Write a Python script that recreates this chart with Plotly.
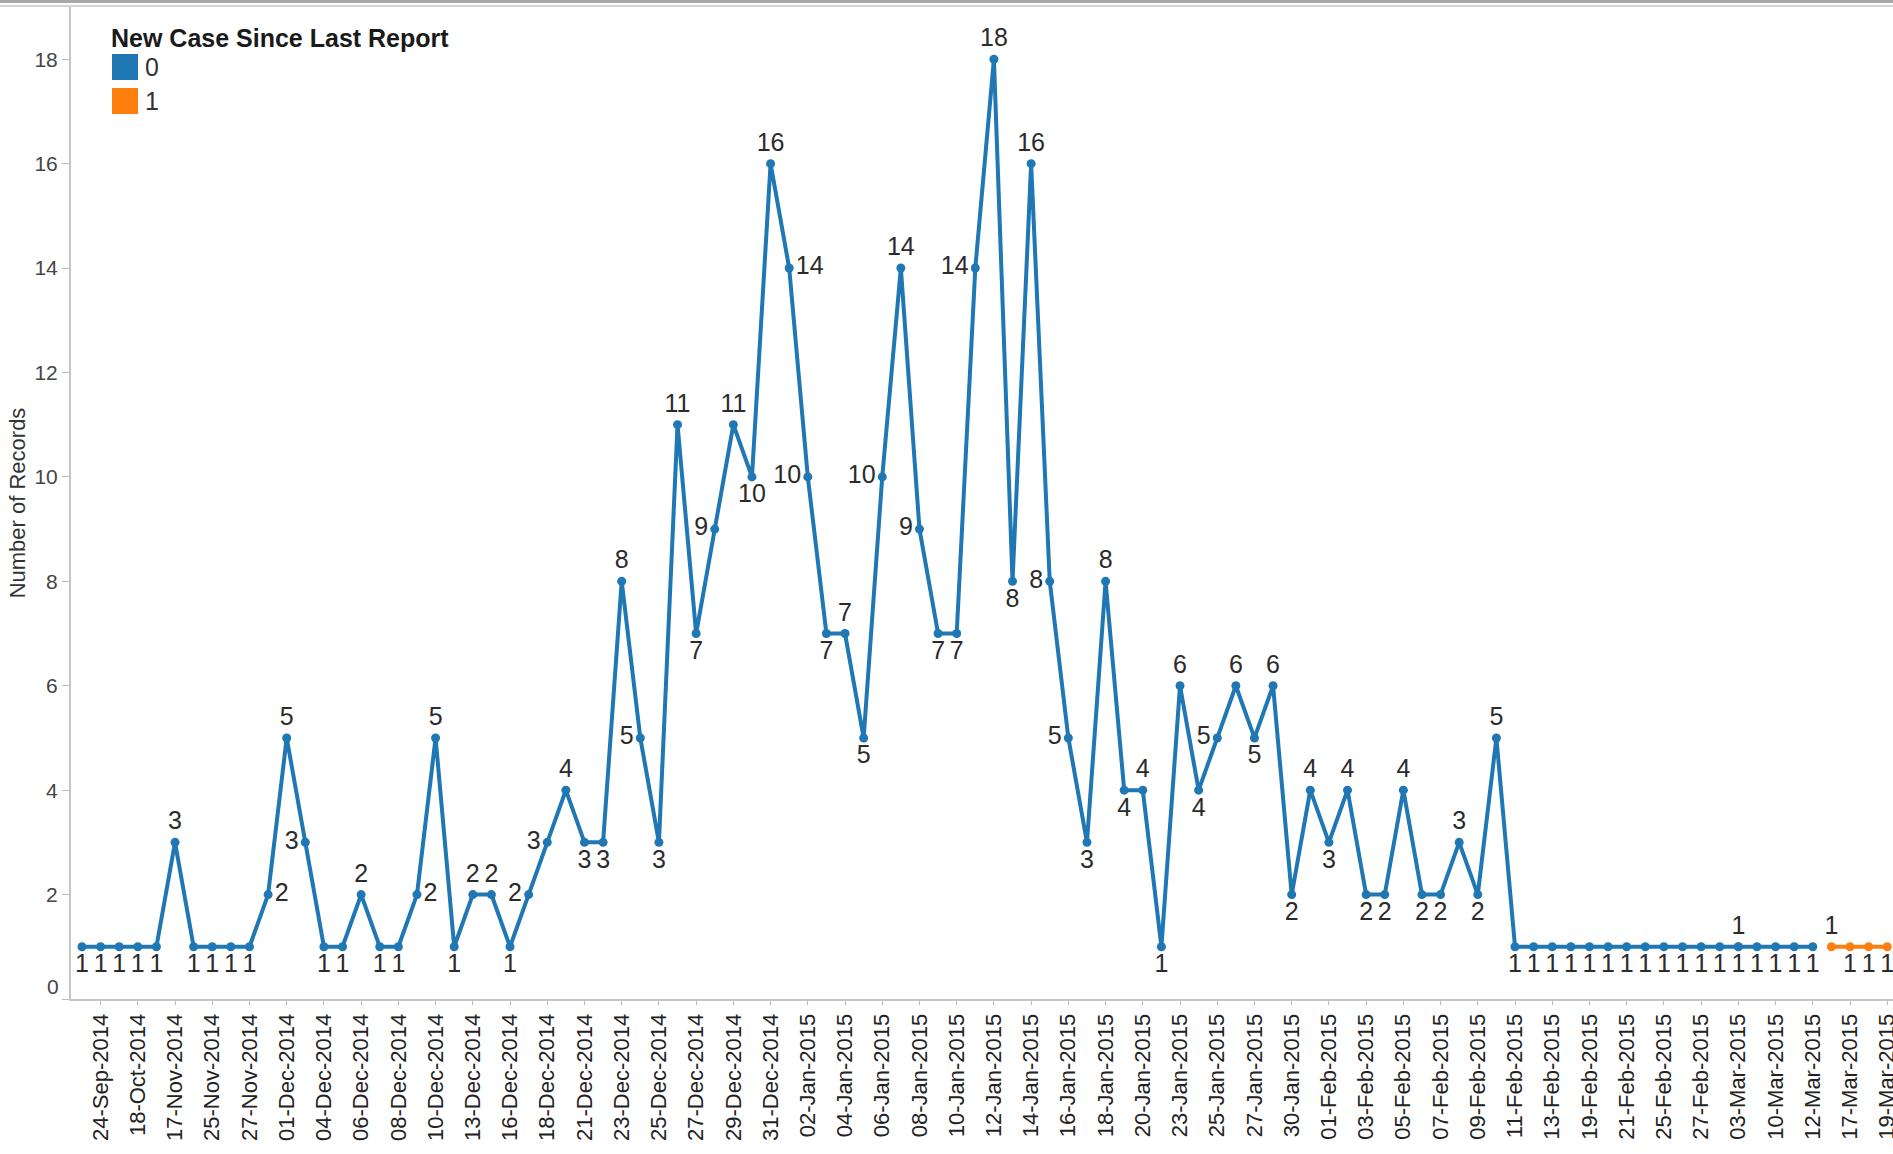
import plotly.graph_objects as go

# ---------------- data ----------------
# x-axis tick labels (Tableau shows every other category label)
tick_labels = [
    "24-Sep-2014", "18-Oct-2014", "17-Nov-2014", "25-Nov-2014", "27-Nov-2014",
    "01-Dec-2014", "04-Dec-2014", "06-Dec-2014", "08-Dec-2014", "10-Dec-2014",
    "13-Dec-2014", "16-Dec-2014", "18-Dec-2014", "21-Dec-2014", "23-Dec-2014",
    "25-Dec-2014", "27-Dec-2014", "29-Dec-2014", "31-Dec-2014", "02-Jan-2015",
    "04-Jan-2015", "06-Jan-2015", "08-Jan-2015", "10-Jan-2015", "12-Jan-2015",
    "14-Jan-2015", "16-Jan-2015", "18-Jan-2015", "20-Jan-2015", "23-Jan-2015",
    "25-Jan-2015", "27-Jan-2015", "30-Jan-2015", "01-Feb-2015", "03-Feb-2015",
    "05-Feb-2015", "07-Feb-2015", "09-Feb-2015", "11-Feb-2015", "13-Feb-2015",
    "19-Feb-2015", "21-Feb-2015", "25-Feb-2015", "27-Feb-2015", "03-Mar-2015",
    "10-Mar-2015", "12-Mar-2015", "17-Mar-2015", "19-Mar-2015",
]

# Series "0" (no new case since last report): records per report date
series0_values = [
    1, 1, 1, 1, 1, 3, 1, 1, 1, 1,
    2, 5, 3, 1, 1, 2, 1, 1, 2, 5,
    1, 2, 2, 1, 2, 3, 4, 3, 3, 8,
    5, 3, 11, 7, 9, 11, 10, 16, 14, 10,
    7, 7, 5, 10, 14, 9, 7, 7, 14, 18,
    8, 16, 8, 5, 3, 8, 4, 4, 1, 6,
    4, 5, 6, 5, 6, 2, 4, 3, 4, 2,
    2, 4, 2, 2, 3, 2, 5, 1, 1, 1,
    1, 1, 1, 1, 1, 1, 1, 1, 1, 1,
    1, 1, 1, 1,
]

# Series "1" (new case since last report): category index -> records
series1_values = {89: 1, 94: 1, 95: 1, 96: 1, 97: 1}

series_names = ["0", "1"]
legend_title = "New Case Since Last Report"
y_ticks = list(range(0, 19, 2))

# ---------------- styling ----------------
BLUE = "#1f77b4"
ORANGE = "#ff7f0e"
FONT = "Arial, 'Liberation Sans', Arimo, sans-serif"

# label placement per point (t=top, b=bottom, l=left, r=right)
series0_label_pos = (
    "bbbbb" + "t" + "bbbb" + "rtl" + "bb" + "t" + "bb" + "rt" + "b" + "tt" + "b"
    + "llt" + "bb" + "tlb" + "tbltbt" + "rlbtb" + "ltl" + "bb" + "ltbtll"
    + "btbtbtb" + "ltbtbtbt" + "bbt" + "bbtbt" + "b" * 17
)
series1_label_pos = {89: "t", 94: "t", 95: "b", 96: "b", 97: "b"}
POS = {"t": "top center", "b": "bottom center", "l": "middle left", "r": "middle right"}

n_categories = 2 * len(tick_labels)
x_all = list(range(n_categories))

x0 = x_all[:len(series0_values)]
pos0 = [POS[c] for c in series0_label_pos]

y1 = [series1_values.get(i) for i in x_all]
pos1 = [POS[series1_label_pos.get(i, "b")] for i in x_all]
txt1 = [("" if v is None else str(v)) for v in y1]

LABEL_FONT = dict(family=FONT, size=25, color="#2b2b2b")

fig = go.Figure()

# orange series first (drawn beneath the blue one)
fig.add_trace(go.Scatter(
    x=x_all, y=y1, name=series_names[1], mode="lines+markers+text",
    line=dict(color=ORANGE, width=4), marker=dict(color=ORANGE, size=9),
    text=txt1, textposition=pos1, connectgaps=False,
    textfont=LABEL_FONT, cliponaxis=False,
))
fig.add_trace(go.Scatter(
    x=x0, y=series0_values, name=series_names[0], mode="lines+markers+text",
    line=dict(color=BLUE, width=4), marker=dict(color=BLUE, size=9),
    text=[str(v) for v in series0_values], textposition=pos0,
    textfont=LABEL_FONT, cliponaxis=False,
))

# plot-area pixel geometry
L, R, T, B = 71, 1893, 7, 999
W, H = 1893, 1154


def px(x):
    return (x - L) / (R - L)


def py(y):
    return (B - y) / (B - T)


tickvals = [2 * k + 1 for k in range(len(tick_labels))]
# Tableau nudges the "0" label up inside the axis; drawn as an annotation below
y_ticktext = ["" if v == 0 else str(v) for v in y_ticks]

fig.update_layout(
    width=W, height=H, template="none",
    margin=dict(l=L, r=W - R, t=T, b=H - B, pad=0),
    paper_bgcolor="white", plot_bgcolor="white", showlegend=False,
    font=dict(family=FONT, color="#333333"),
    xaxis=dict(
        range=[-0.59, 97.31], tickmode="array", tickvals=tickvals, ticktext=tick_labels,
        tickangle=-90, tickfont=dict(size=22, color="#222222"), ticklabeloverflow="allow",
        ticks="outside", ticklen=4, tickcolor="#bbbbbb", tickwidth=1,
        showline=True, linecolor="#c6c6c6", linewidth=2,
        showgrid=False, zeroline=False, automargin=False,
    ),
    yaxis=dict(
        range=[0, 19], tickmode="array", tickvals=y_ticks, ticktext=y_ticktext,
        tickfont=dict(size=21, color="#444444"),
        ticks="outside", ticklen=7, tickcolor="#bbbbbb", tickwidth=1,
        showline=True, linecolor="#c6c6c6", linewidth=2,
        showgrid=False, zeroline=False, automargin=False,
        title=dict(text="Number of Records", font=dict(size=22, color="#333333"), standoff=3),
    ),
)

fig.add_annotation(xref="paper", yref="paper", x=px(61), y=py(986), text=str(y_ticks[0]),
                   showarrow=False, xanchor="right", yanchor="middle",
                   font=dict(family=FONT, size=21, color="#444444"))

# window chrome lines at the top
fig.add_shape(type="rect", xref="paper", yref="paper", x0=px(0), x1=px(W), y0=py(0), y1=py(3),
              fillcolor="#a8a8a8", line=dict(width=0), layer="above")
fig.add_shape(type="line", xref="paper", yref="paper", x0=px(0), x1=px(W), y0=py(6), y1=py(6),
              line=dict(color="#d4d4d4", width=2), layer="above")

# manual legend
fig.add_annotation(xref="paper", yref="paper", x=px(109), y=py(38), text="<b>" + legend_title + "</b>",
                   showarrow=False, xanchor="left", yanchor="middle",
                   font=dict(family=FONT, size=25, color="#1a1a1a"))
for i, (name, col) in enumerate(zip(series_names, [BLUE, ORANGE])):
    top = 54 + i * 34
    fig.add_shape(type="rect", xref="paper", yref="paper", x0=px(112), x1=px(138),
                  y0=py(top + 26), y1=py(top), fillcolor=col, line=dict(width=0))
    fig.add_annotation(xref="paper", yref="paper", x=px(143), y=py(top + 13), text=name,
                       showarrow=False, xanchor="left", yanchor="middle",
                       font=dict(family=FONT, size=25, color="#333333"))

fig.write_html(
    "out.html",
    config={"displayModeBar": False},
    post_script="document.body.style.margin='0';document.body.style.overflow='hidden';",
)
